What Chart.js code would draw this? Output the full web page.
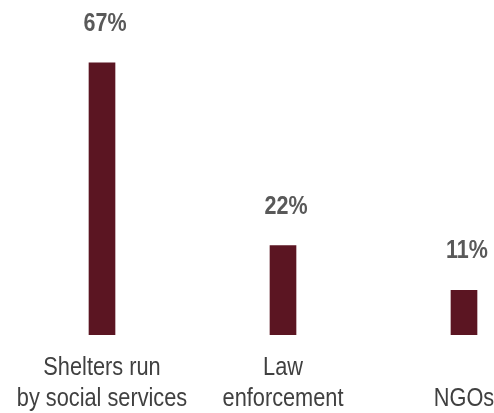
<!DOCTYPE html>
<html><head><meta charset="utf-8">
<script src="https://cdn.jsdelivr.net/npm/chart.js@4.4.0/dist/chart.umd.min.js"></script>
<style>
html,body{margin:0;padding:0;overflow:hidden;background:#fff;width:494px;height:413px}
#wrap{position:absolute;left:0;top:0;width:570px;height:413px}
</style></head><body><div id="wrap"><canvas id="c"></canvas></div>
<script>
const categories = [["Shelters run","by social services"],["Law","enforcement"],["","NGOs"]];
const values = [67, 22, 11];
const valueLabels = ["67%", "22%", "11%"];

const FONT = '"Liberation Sans",Arial,sans-serif';

function drawNarrow(ctx, text, x, y, sq) {
  ctx.save();
  ctx.translate(x, y);
  ctx.scale(sq, 1);
  ctx.fillText(text, 0, 0);
  ctx.restore();
}

const labelPlugin = {
  id: 'narrowLabels',
  afterDatasetsDraw(chart) {
    const ctx = chart.ctx;
    const meta = chart.getDatasetMeta(0);
    const xScale = chart.scales.x;
    const area = chart.chartArea;
    ctx.save();
    ctx.textAlign = 'center';
    ctx.textBaseline = 'alphabetic';
    ctx.font = 'bold 25px ' + FONT;
    ctx.fillStyle = '#595959';
    meta.data.forEach((bar, i) => {
      drawNarrow(ctx, valueLabels[i], bar.x + 3, bar.y - 32, 0.86);
    });
    ctx.font = '25px ' + FONT;
    ctx.fillStyle = '#404040';
    categories.forEach((lines, i) => {
      const x = xScale.getPixelForTick(i);
      lines.forEach((line, j) => {
        if (line) drawNarrow(ctx, line, x, area.bottom + 40 + j * 31, 0.87);
      });
    });
    ctx.restore();
  }
};

new Chart(document.getElementById('c'), {
  type: 'bar',
  data: {
    labels: categories,
    datasets: [{
      data: values,
      backgroundColor: '#5B1522',
      barThickness: 26
    }]
  },
  options: {
    responsive: true,
    maintainAspectRatio: false,
    animation: false,
    layout: { autoPadding: false, padding: { left: 11.5, right: 15.5, top: 0, bottom: 70 } },
    plugins: { legend: { display: false }, tooltip: { enabled: false } },
    scales: {
      y: { display: false, min: 0, max: 82.5 },
      x: {
        grid: { display: false },
        border: { display: false },
        ticks: { display: false }
      }
    }
  },
  plugins: [labelPlugin]
});
</script></body></html>
